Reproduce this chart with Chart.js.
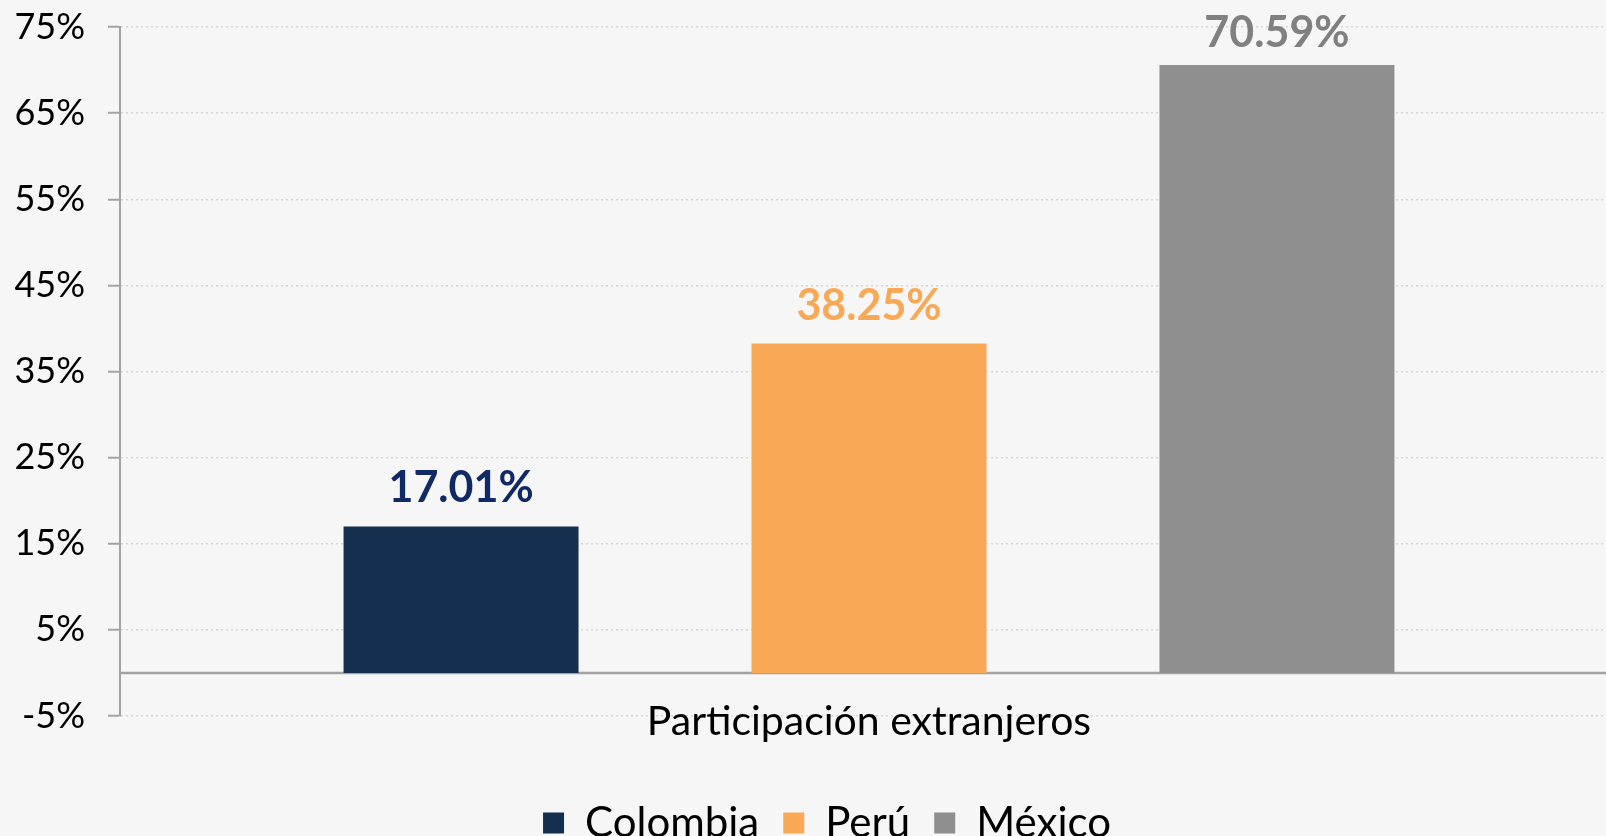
<!DOCTYPE html>
<html>
<head>
<meta charset="utf-8">
<script src="https://cdn.jsdelivr.net/npm/chart.js@4/dist/chart.umd.min.js"></script>
<style>
    html, body { margin: 0; padding: 0; background: #f6f6f6; overflow: hidden; }
    #wrap { width: 1618px; height: 836px; }
</style>
</head>
<body>
<div id="wrap"><canvas id="chart"></canvas></div>
<script>
const categories = ['Participación extranjeros'];
const countries = ['Colombia', 'Perú', 'México'];
const values = [17.01, 38.25, 70.59];
const barColors = ['#15304f', '#f9a856', '#8f8f8f'];
const labelColors = ['#112a66', '#f9a856', '#808080'];
const yTicks = [-5, 5, 15, 25, 35, 45, 55, 65, 75];

const FONT = 'Lato';
const axisGray = '#a3a3a3';

// zero line across the plot, the bars stand on it
const zeroLine = {
    id: 'zeroLine',
    beforeDatasetsDraw(chart) {
        const {ctx, chartArea, scales} = chart;
        const y = scales.y.getPixelForValue(0);
        ctx.save();
        ctx.strokeStyle = axisGray;
        ctx.lineWidth = 2.5;
        ctx.beginPath();
        ctx.moveTo(chartArea.left, y);
        ctx.lineTo(chartArea.right, y);
        ctx.stroke();
        ctx.restore();
    }
};

// category name sits over the bottom grid line, like in the excel chart
const categoryLabels = {
    id: 'categoryLabels',
    afterDraw(chart) {
        const {ctx, chartArea, scales} = chart;
        ctx.save();
        ctx.font = `41px ${FONT}`;
        ctx.fillStyle = '#000';
        ctx.textAlign = 'center';
        ctx.textBaseline = 'alphabetic';
        categories.forEach((c, i) => {
            ctx.fillText(c, scales.x.getPixelForTick(i), chartArea.bottom + 19);
        });
        ctx.restore();
    }
};

// value labels over the bars
const valueLabels = {
    id: 'valueLabels',
    afterDatasetsDraw(chart) {
        const ctx = chart.ctx;
        ctx.save();
        ctx.font = `bold 43px ${FONT}`;
        ctx.textAlign = 'center';
        ctx.textBaseline = 'alphabetic';
        chart.data.datasets.forEach((ds, i) => {
            const bar = chart.getDatasetMeta(i).data[0];
            ctx.fillStyle = labelColors[i];
            ctx.fillText(ds.data[0].toFixed(2) + '%', bar.x, Math.max(bar.y - 24, 47));
        });
        ctx.restore();
    }
};

// legend in the original is centred a bit right of the canvas middle
const legendShift = {
    id: 'legendShift',
    afterLayout(chart) {
        if (chart.legend) chart.legend.left += 36;
    }
};

new Chart(document.getElementById('chart'), {
    type: 'bar',
    data: {
        labels: categories,
        datasets: countries.map((c, i) => ({
            label: c,
            data: [values[i]],
            backgroundColor: barColors[i],
            categoryPercentage: 0.817,
            barPercentage: 0.576
        }))
    },
    options: {
        responsive: true,
        maintainAspectRatio: false,
        animation: false,
        layout: {
            padding: {top: 0, right: 0, bottom: -18, left: 0}
        },
        plugins: {
            tooltip: {enabled: false},
            legend: {
                position: 'bottom',
                labels: {
                    color: '#000',
                    font: {family: FONT, size: 42},
                    boxWidth: 21,
                    boxHeight: 21,
                    padding: 24
                }
            }
        },
        scales: {
            x: {
                grid: {display: false, drawTicks: false},
                border: {display: false},
                ticks: {display: false},
                afterFit(scale) {
                    scale.height = 62;
                }
            },
            y: {
                min: -5,
                max: 75,
                afterBuildTicks(scale) {
                    scale.ticks = yTicks.map(v => ({value: v}));
                },
                afterFit(scale) {
                    scale.width = 120;
                    scale.paddingTop = 27;
                    scale.paddingBottom = 20;
                },
                grid: {
                    color: '#d6d6d6',
                    lineWidth: 1.5,
                    tickColor: axisGray,
                    tickLength: 12,
                    tickWidth: 2
                },
                border: {
                    color: axisGray,
                    width: 2,
                    dash: [2, 3]
                },
                ticks: {
                    color: '#000',
                    font: {family: FONT, size: 36},
                    padding: 23,
                    callback: v => v + '%'
                }
            }
        }
    },
    plugins: [zeroLine, categoryLabels, valueLabels, legendShift]
});
</script>
</body>
</html>
